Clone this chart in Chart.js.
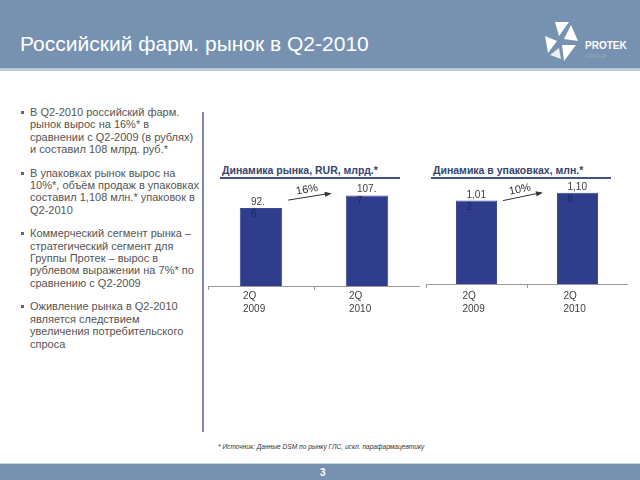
<!DOCTYPE html>
<html>
<head>
<meta charset="utf-8">
<script src="https://cdn.jsdelivr.net/npm/chart.js@4"></script>
<style>
  body { margin: 0; width: 640px; height: 480px; position: relative; background: #fff; font-family: "Liberation Sans", Arial, sans-serif; overflow: hidden; }
  .header { position: absolute; left: 0; top: 0; width: 640px; height: 68px; background: #7792b0; border-bottom: 3px solid #b9cdd6; }
  .header h1 { position: absolute; left: 20px; top: 32px; margin: 0; font-weight: normal; font-size: 21px; color: #fff; }
  .logo { position: absolute; left: 543px; top: 20px; }
  .bullets { position: absolute; left: 20px; top: 106px; margin: 0; padding: 0; list-style: none; font-size: 11px; line-height: 12.4px; color: #555; white-space: nowrap; }
  .bullets li { position: relative; padding-left: 10px; margin-bottom: 11px; }
  .bullets li:before { content: ""; position: absolute; left: 1px; top: 5px; width: 3px; height: 3px; background: #666; }
  .vline { position: absolute; left: 202px; top: 112px; width: 2px; height: 320px; background: #8088b0; }
  .ctitle { position: absolute; top: 164px; font-size: 10.5px; font-weight: bold; color: #34446e; border-bottom: 2px solid #435381; padding-bottom: 1px; width: 178px; padding-left: 2px; }
  canvas { position: absolute; }
  .note { position: absolute; left: 218px; top: 443px; font-size: 6.6px; font-style: italic; color: #333; }
  .footer { position: absolute; left: 0; top: 463px; width: 640px; height: 17px; background: #7792b0; border-top: 1px solid #c9d7de; }
  .footer span { position: absolute; left: 320px; top: 3px; font-size: 10px; font-weight: bold; color: #fff; }
</style>
</head>
<body>
<div class="header">
  <h1>Российский фарм. рынок в Q2-2010</h1>
  <svg class="logo" width="90" height="44" viewBox="0 0 90 44">
    <polygon points="12,2 26,2 16,16" fill="#fff"/>
    <polygon points="28,5 35,21 21,19" fill="#fff"/>
    <polygon points="2,16 14,21 5,33" fill="#fff"/>
    <polygon points="19,25 33,25 21,41" fill="#fff"/>
    <polygon points="7,35 16,28 18,39" fill="#e8eef4"/>
    <text x="42" y="29" font-family="Liberation Sans, Arial" font-size="10" font-weight="bold" fill="#fff">PROTEK</text>
    <text x="42" y="38" font-family="Liberation Sans, Arial" font-size="6" fill="#9aa8b8">GROUP</text>
  </svg>
</div>

<ul class="bullets">
  <li>В Q2-2010 российский фарм.<br>рынок вырос на 16%* в<br>сравнении с Q2-2009 (в рублях)<br>и составил 108 млрд. руб.*</li>
  <li>В упаковках рынок вырос на<br>10%*, объём продаж в упаковках<br>составил 1,108 млн.* упаковок в<br>Q2-2010</li>
  <li>Коммерческий сегмент рынка –<br>стратегический сегмент для<br>Группы Протек – вырос в<br>рублевом выражении на 7%* по<br>сравнению с Q2-2009</li>
  <li>Оживление рынка в Q2-2010<br>является следствием<br>увеличения потребительского<br>спроса</li>
</ul>
<div class="vline"></div>

<div class="ctitle" style="left:220px;">Динамика рынка, RUR, млрд.*</div>
<div class="ctitle" style="left:431px;">Динамика в упаковках, млн.*</div>

<canvas id="rurChart" style="left:208px; top:180px; width:212px; height:136px;" width="212" height="136"></canvas>
<canvas id="packChart" style="left:426px; top:180px; width:202px; height:138px;" width="202" height="138"></canvas>

<div class="note">* Источник: Данные DSM по рынку ГЛС, искл. парафармацевтику</div>
<div class="footer"><span>3</span></div>

<script>
// Data
const periods = [['2Q', '2009'], ['2Q', '2010']];
const rurValues = [92.6, 107.7];
const packValues = [1012, 1108];
const rurGrowth = '16%';
const packGrowth = '10%';

// value label split like the original: last digit wraps onto the bar
const valueLabels = {
    id: 'valueLabels',
    afterDatasetsDraw(chart) {
        const ctx = chart.ctx;
        const meta = chart.getDatasetMeta(0);
        const values = chart.data.datasets[0].data;
        ctx.save();
        ctx.font = '10px "Liberation Sans", Arial';
        ctx.textAlign = 'left';
        meta.data.forEach((bar, i) => {
            const s = values[i].toLocaleString('en-US');
            const x = bar.x - 10;
            ctx.fillStyle = '#404040';
            ctx.fillText(s.slice(0, -1), x, bar.y - 3);
            ctx.fillStyle = '#1c2a5e';
            ctx.fillText(s.slice(-1), x, bar.y + 9);
        });
        ctx.restore();
    }
};

// growth arrow between the two bars
const growthArrow = {
    id: 'growthArrow',
    afterDatasetsDraw(chart, args, opts) {
        const ctx = chart.ctx;
        const bars = chart.getDatasetMeta(0).data;
        const x0 = bars[0].x + bars[0].width / 2 + 6;
        const y0 = bars[0].y - opts.d0;
        const x1 = bars[1].x - bars[1].width / 2 - 16;
        const y1 = bars[1].y - opts.d1;
        const ang = Math.atan2(y1 - y0, x1 - x0);
        ctx.save();
        ctx.strokeStyle = '#333';
        ctx.fillStyle = '#333';
        ctx.lineWidth = 1;
        ctx.beginPath();
        ctx.moveTo(x0, y0);
        ctx.lineTo(x1, y1);
        ctx.stroke();
        ctx.beginPath();
        ctx.moveTo(x1 + 2, y1);
        ctx.lineTo(x1 - 5 * Math.cos(ang) + 2.5 * Math.sin(ang), y1 - 5 * Math.sin(ang) - 2.5 * Math.cos(ang));
        ctx.lineTo(x1 - 5 * Math.cos(ang) - 2.5 * Math.sin(ang), y1 - 5 * Math.sin(ang) + 2.5 * Math.cos(ang));
        ctx.closePath();
        ctx.fill();
        ctx.translate((x0 + x1) / 2 - 2, (y0 + y1) / 2 - 7);
        ctx.rotate(ang);
        ctx.font = '11px "Liberation Sans", Arial';
        ctx.textAlign = 'center';
        ctx.textBaseline = 'middle';
        ctx.fillStyle = '#303030';
        ctx.fillText(opts.text, 0, 0);
        ctx.restore();
    }
};

function makeChart(id, values, yMax, barPct, labelShift, tickPad, growth, d0, d1) {
    new Chart(document.getElementById(id), {
        type: 'bar',
        data: {
            labels: periods,
            datasets: [{
                data: values,
                backgroundColor: '#2f3d8c',
                borderColor: '#3a4a9a',
                borderWidth: 1,
                categoryPercentage: 1,
                barPercentage: barPct
            }]
        },
        options: {
            responsive: false,
            animation: false,
            layout: { padding: 0 },
            plugins: {
                legend: { display: false },
                tooltip: { enabled: false },
                growthArrow: { text: growth, d0: d0, d1: d1 }
            },
            scales: {
                y: { display: false, min: 0, max: yMax },
                x: {
                    border: { display: true, color: '#999', width: 1 },
                    grid: { drawOnChartArea: false, drawTicks: true, tickLength: 4, color: '#999' },
                    ticks: {
                        color: '#404040',
                        font: { size: 10, family: '"Liberation Sans", Arial', lineHeight: 1.3 },
                        padding: tickPad,
                        align: 'start',
                        labelOffset: labelShift
                    }
                }
            }
        },
        plugins: [valueLabels, growthArrow]
    });
}

makeChart('rurChart', rurValues, 126, 0.4, -18, 0, rurGrowth, 8, 2);
makeChart('packChart', packValues, 1262, 0.406, -14, 2, packGrowth, 0, 0);
</script>
</body>
</html>
